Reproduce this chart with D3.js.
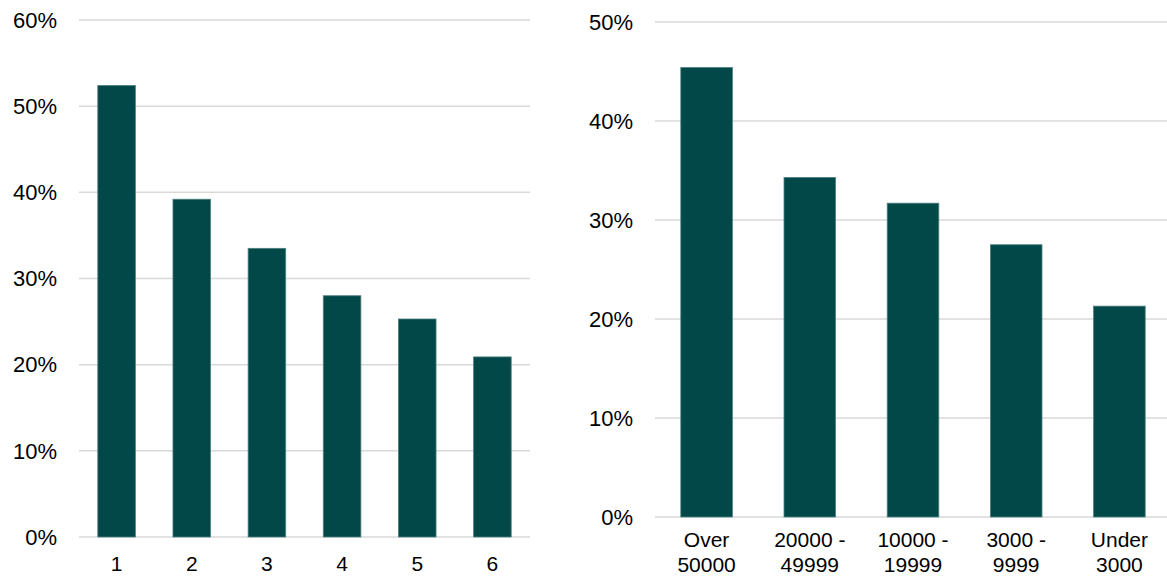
<!DOCTYPE html>
<html>
<head>
<meta charset="utf-8">
<script src="https://cdn.jsdelivr.net/npm/d3@7"></script>
<style>
  body { margin: 0; background: #fff; }
  text { font-family: "Liberation Sans", Arial, sans-serif; fill: #000; }
</style>
</head>
<body>
<div class="canvas"></div>
<script>
// left chart data
const leftCategories = ['1', '2', '3', '4', '5', '6'];
const leftValues = [0.524, 0.392, 0.335, 0.280, 0.253, 0.209];
const leftTicks = [0, 0.1, 0.2, 0.3, 0.4, 0.5, 0.6];

// right chart data
const rightCategories = ['Over|50000', '20000 -|49999', '10000 -|19999', '3000 -|9999', 'Under|3000'];
const rightValues = [0.454, 0.343, 0.317, 0.275, 0.213];
const rightTicks = [0, 0.1, 0.2, 0.3, 0.4, 0.5];

const barColor = '#034848';
const gridColor = '#d9d9d9';

const svg = d3
  .select('.canvas')
  .append('svg')
  .attr('width', 1167)
  .attr('height', 576);

const drawChart = (opts) => {
  const x = d3
    .scaleBand()
    .domain(opts.categories)
    .range([opts.left, opts.right])
    .paddingInner(0.5)
    .paddingOuter(0.25);

  const y = d3
    .scaleLinear()
    .domain([0, d3.max(opts.ticks)])
    .range([opts.bottom, opts.top]);

  const g = svg.append('g');

  // gridlines
  g.selectAll('line.grid')
    .data(opts.ticks)
    .enter()
    .append('line')
    .attr('class', 'grid')
    .attr('x1', opts.left)
    .attr('x2', opts.gridRight)
    .attr('y1', (d) => y(d))
    .attr('y2', (d) => y(d))
    .attr('stroke', gridColor)
    .attr('stroke-width', 1.5);

  // y labels
  g.selectAll('text.ylab')
    .data(opts.ticks)
    .enter()
    .append('text')
    .attr('class', 'ylab')
    .attr('x', opts.left - 22)
    .attr('y', (d) => y(d))
    .attr('dy', '0.35em')
    .attr('text-anchor', 'end')
    .attr('font-size', 22)
    .text(d3.format('.0%'));

  // bars
  g.selectAll('rect')
    .data(opts.values)
    .enter()
    .append('rect')
    .attr('x', (d, i) => x(opts.categories[i]))
    .attr('y', (d) => y(d))
    .attr('width', x.bandwidth())
    .attr('height', (d) => y(0) - y(d))
    .attr('fill', barColor)
    .attr('stroke', '#4d8181')
    .attr('stroke-width', 0.8);

  // x labels, split on |
  const labels = g
    .selectAll('text.xlab')
    .data(opts.categories)
    .enter()
    .append('text')
    .attr('class', 'xlab')
    .attr('text-anchor', 'middle')
    .attr('font-size', 21)
    .attr('y', opts.labelY);

  labels
    .selectAll('tspan')
    .data((d) => d.split('|').map((s) => ({ s, c: d })))
    .enter()
    .append('tspan')
    .attr('x', (d) => x(d.c) + x.bandwidth() / 2)
    .attr('dy', (d, i) => (i === 0 ? 0 : 25))
    .text((d) => d.s);
};

drawChart({
  categories: leftCategories,
  values: leftValues,
  ticks: leftTicks,
  left: 79,
  right: 530,
  gridRight: 530,
  top: 20,
  bottom: 537,
  labelY: 571
});

drawChart({
  categories: rightCategories,
  values: rightValues,
  ticks: rightTicks,
  left: 655,
  right: 1171,
  gridRight: 1171,
  top: 22,
  bottom: 517,
  labelY: 547
});
</script>
</body>
</html>
